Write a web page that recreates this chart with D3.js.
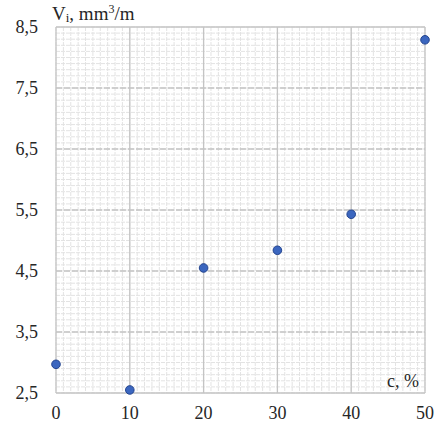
<!DOCTYPE html>
<html>
<head>
<meta charset="utf-8">
<script src="https://cdn.jsdelivr.net/npm/d3@7"></script>
<style>
body { margin: 0; background: #fff; }
svg text { font-family: "Liberation Serif", "Times New Roman", serif; fill: #262626; }
</style>
</head>
<body>
<svg id="chart" width="438" height="428"></svg>
<script>
// data
var cValues = [0, 10, 20, 30, 40, 50];
var vValues = [2.97, 2.55, 4.55, 4.84, 5.43, 8.29];
var xTicks = [0, 10, 20, 30, 40, 50];
var yTicks = [2.5, 3.5, 4.5, 5.5, 6.5, 7.5, 8.5];

var margin = { top: 27, right: 13, bottom: 35, left: 56 };
var width = 438 - margin.left - margin.right;
var height = 428 - margin.top - margin.bottom;

var svg = d3.select("#chart");
var g = svg.append("g").attr("transform", "translate(" + margin.left + "," + margin.top + ")");

var x = d3.scaleLinear().domain([0, 50]).range([0, width]);
var y = d3.scaleLinear().domain([2.5, 8.5]).range([height, 0]);

// minor grid (fine mesh)
var minorX = d3.range(0, 50.01, 1);
var minorY = d3.range(2.5, 8.501, 0.1);
g.selectAll(".minx").data(minorX).enter().append("line")
	.attr("x1", function(d) { return x(d); })
	.attr("x2", function(d) { return x(d); })
	.attr("y1", 0).attr("y2", height)
	.attr("stroke", "#e3e3e3").attr("stroke-width", 1)
	.attr("stroke-dasharray", "4,1");
g.selectAll(".miny").data(minorY).enter().append("line")
	.attr("x1", 0).attr("x2", width)
	.attr("y1", function(d) { return y(d); })
	.attr("y2", function(d) { return y(d); })
	.attr("stroke", "#e3e3e3").attr("stroke-width", 1)
	.attr("stroke-dasharray", "4,1");

// major grid
g.selectAll(".majx").data(xTicks).enter().append("line")
	.attr("x1", function(d) { return x(d); })
	.attr("x2", function(d) { return x(d); })
	.attr("y1", 0).attr("y2", height)
	.attr("stroke", "#c4c4c4").attr("stroke-width", 1.3);
g.selectAll(".majy").data(yTicks).enter().append("line")
	.attr("x1", 0).attr("x2", width)
	.attr("y1", function(d) { return y(d); })
	.attr("y2", function(d) { return y(d); })
	.attr("stroke", "#c4c4c4").attr("stroke-width", 1.3)
	.attr("stroke-dasharray", function(d) { return (d == 2.5 || d == 8.5) ? null : "6,2"; });

// tick labels
var fmt = function(d) { return String(d).replace(".", ","); };
g.selectAll(".ylab").data(yTicks).enter().append("text")
	.attr("x", -18).attr("y", function(d) { return y(d); })
	.attr("dy", "0.35em").attr("text-anchor", "end")
	.attr("font-size", 18)
	.text(fmt);
g.selectAll(".xlab").data(xTicks).enter().append("text")
	.attr("x", function(d) { return x(d); })
	.attr("y", height + 26).attr("text-anchor", "middle")
	.attr("font-size", 18)
	.text(fmt);

// axis titles
var yt = svg.append("text").attr("x", 52).attr("y", 20).attr("font-size", 19);
yt.append("tspan").text("V");
yt.append("tspan").attr("font-size", 13).attr("dy", 2).text("i");
yt.append("tspan").attr("dy", -2).text(", mm");
yt.append("tspan").attr("font-size", 12).attr("dy", -7).text("3");
yt.append("tspan").attr("dy", 7).text("/m");

svg.append("text").attr("x", 419).attr("y", 387)
	.attr("text-anchor", "end").attr("font-size", 18)
	.text("c, %");

// points
g.selectAll("circle").data(cValues).enter().append("circle")
	.attr("cx", function(d) { return x(d); })
	.attr("cy", function(d, i) { return y(vValues[i]); })
	.attr("r", 4.3)
	.attr("fill", "#3b66bf")
	.attr("stroke", "#23448f")
	.attr("stroke-width", 1);
</script>
</body>
</html>
